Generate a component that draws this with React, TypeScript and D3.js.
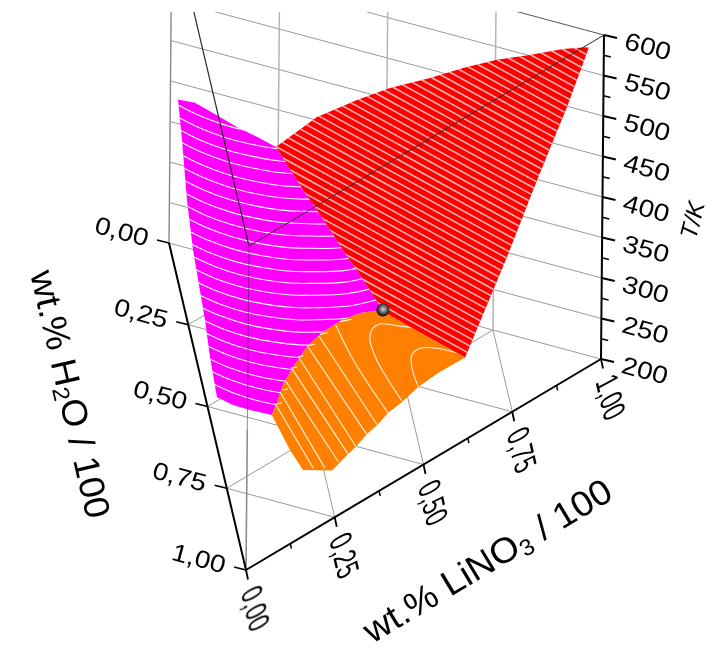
import React from "react";
import * as d3 from "d3";

// ---- ticks ----
const compTicks = [0, 0.25, 0.5, 0.75, 1];
const compGrid = [0.25, 0.5, 0.75];
const compMinor = [0.125, 0.375, 0.625, 0.875];
const tempTicks = [200, 250, 300, 350, 400, 450, 500, 550, 600];
const tempMinor = [225, 275, 325, 375, 425, 475, 525, 575];

// ---- surfaces: [H2O, LiNO3, T] ----
type P = [number, number, number];
const magentaSurface: P[] = [
  [0.096, 0, 416], [0.087, 0.041, 414], [0.099, 0.0805, 412], [0.113, 0.1335, 408], [0.117, 0.179, 404],
  [0.123, 0.222, 400], [0.128, 0.289, 355], [0.139, 0.334, 330], [0.1485, 0.3745, 305], [0.144, 0.4197, 275],
  [0.145, 0.457, 250], [0.137, 0.47, 240], [0.167, 0.412, 240], [0.208, 0.363, 241], [0.267, 0.308, 242],
  [0.332, 0.2595, 243], [0.4126, 0.2128, 244], [0.483, 0.177, 245], [0.546, 0.152, 246], [0.5956, 0.131, 247],
  [0.612, 0.0775, 252], [0.6187, 0.037, 255], [0.6177, 0, 259], [0.5255, 0, 271], [0.4587, 0, 290],
  [0.3007, 0, 313], [0.22, 0, 342], [0.1505, 0, 388],
];
const redSurface: P[] = [
  [0.123, 0.222, 400], [0.055, 0.329, 425], [0.0443, 0.423, 455], [0.0425, 0.499, 480], [0.028, 0.594, 500],
  [0.019, 0.672, 520], [0.016, 0.75, 540], [0.011, 0.827, 555], [0.002, 0.905, 570], [0.042, 0.958, 596],
  [0.103, 0.897, 538], [0.186, 0.814, 469], [0.269, 0.731, 396], [0.385, 0.615, 302],
  [0.2606, 0.5265, 272], [0.149, 0.477, 241], [0.145, 0.457, 250], [0.144, 0.4197, 275], [0.1485, 0.3745, 305],
  [0.139, 0.334, 330], [0.128, 0.289, 355],
];
const orangeSurface: P[] = [
  [0.137, 0.47, 240], [0.167, 0.412, 240], [0.208, 0.363, 241], [0.267, 0.308, 242], [0.332, 0.2595, 243],
  [0.4126, 0.2128, 244], [0.483, 0.177, 245], [0.546, 0.152, 246], [0.5956, 0.131, 247], [0.7156, 0.1516, 255],
  [0.777, 0.1707, 258], [0.759, 0.241, 260], [0.717, 0.283, 268], [0.692, 0.308, 272], [0.661, 0.339, 279.5],
  [0.633, 0.367, 283], [0.602, 0.398, 290], [0.5627, 0.4373, 293.5], [0.5176, 0.4824, 300], [0.4637, 0.5363, 303],
  [0.385, 0.615, 302], [0.2606, 0.5265, 272], [0.149, 0.477, 241],
];
const spherePoint: P = [0.137, 0.47, 240];

// ---- contour levels ----
const magentaLevelT = [412, 403, 394.5, 386, 376, 366, 356.4, 346.7, 338, 330.5, 323.4, 316, 310.6, 306.4, 302.2, 298, 294, 289.5, 283, 276.5, 270.4, 266.6, 262.8];
const magentaLevelH = [0.104, 0.121, 0.138, 0.154, 0.169, 0.183, 0.198, 0.213, 0.2306, 0.251, 0.272, 0.292, 0.3174, 0.346, 0.375, 0.404, 0.432, 0.46, 0.483, 0.506, 0.53, 0.559, 0.589];
const magentaLevelBend = [0.09, 0.09, 0.085, 0.08, 0.08, 0.075, 0.07, 0.065, 0.06, 0.055, 0.045, 0.035, 0.025, 0.015, 0.01, 0, 0, 0, 0, 0, 0, 0, 0];
const magentaArcDH = [-0.0076, 0, 0.0103, 0.0145, 0.0089, -0.0049, -0.0225, -0.0597, -0.1088, -0.183];
const magentaArcDL = [-0.0218, 0, 0.0398, 0.0969, 0.1558, 0.2208, 0.2702, 0.3579, 0.4361, 0.542];
// the ends of the magenta contours that poke over the orange sheet, at T = 240
const magentaStubs: P[][] = [
  [[0.213, 0.357, 240], [0.195, 0.3875, 240]],
  [[0.2717, 0.3004, 240], [0.2592, 0.3218, 240]],
  [[0.32, 0.2624, 240], [0.3094, 0.2805, 240]],
  [[0.3639, 0.2338, 240], [0.3562, 0.2467, 240]],
  [[0.4084, 0.2082, 240], [0.3986, 0.2245, 240]],
  [[0.486, 0.1766, 240], [0.4783, 0.1895, 240]],
  [[0.536, 0.1538, 240], [0.5283, 0.1667, 240]],
];

const redLevelT = [595, 589, 583, 577, 571, 565, 559, 553, 547, 541, 535, 529, 523, 517, 511, 505, 499, 493, 487, 481, 475, 469, 463, 457, 451, 445, 439, 433, 427, 421, 415, 409, 403, 397, 391, 385, 379, 373, 367, 361, 355, 349, 343, 337, 331, 325, 319, 313, 307];
const redLevelH = [0.043, 0.05, 0.057, 0.064, 0.071, 0.078, 0.085, 0.092, 0.099, 0.106, 0.113, 0.12, 0.127, 0.134, 0.141, 0.148, 0.155, 0.162, 0.169, 0.176, 0.183, 0.19, 0.197, 0.204, 0.211, 0.218, 0.225, 0.232, 0.239, 0.246, 0.253, 0.26, 0.267, 0.274, 0.281, 0.288, 0.295, 0.302, 0.309, 0.316, 0.323, 0.33, 0.337, 0.344, 0.351, 0.358, 0.365, 0.372, 0.379];
const redSpanDH = [0.0276, -0.368];
const redSpanDL = [0.0645, -0.86];

const orangeContours: P[][] = [
  [[0.5894, 0.1393, 260], [0.768, 0.1961, 260]],
  [[0.5498, 0.1578, 261], [0.76, 0.2244, 261]],
  [[0.5125, 0.176, 263], [0.7325, 0.2602, 263]],
  [[0.4792, 0.1975, 267], [0.7103, 0.2873, 267]],
  [[0.4486, 0.2182, 272], [0.6918, 0.3084, 272]],
  [[0.4217, 0.2422, 279], [0.6607, 0.3385, 279]],
  [[0.3894, 0.2748, 283], [0.6297, 0.3672, 283]],
  [[0.3552, 0.3193, 290], [0.459, 0.3432, 290], [0.6023, 0.3987, 290]],
  [[0.3078, 0.5169, 293], [0.3168, 0.469, 293], [0.3259, 0.4287, 293], [0.3528, 0.4047, 293], [0.3869, 0.3947, 293], [0.4463, 0.3996, 293], [0.5014, 0.4166, 293], [0.5573, 0.4377, 293]],
  [[0.371, 0.5981, 300], [0.3742, 0.5512, 300], [0.3888, 0.51, 300], [0.418, 0.4856, 300], [0.4562, 0.4788, 300], [0.5157, 0.4834, 300]],
];

// ---- projection of the ternary prism ----
const sxH = d3.scaleLinear([0, 1], [0, 77]);
const sxL = d3.scaleLinear([0, 1], [0, 432]);
const syH = d3.scaleLinear([0, 1], [0, 327]);
const syL = d3.scaleLinear([0, 1], [0, 116]);
const sxT = d3.scaleLinear([200, 600], [169, 172]);
const syT = d3.scaleLinear([200, 600], [243, -81]);
const proj = ([h, l, t]: P): [number, number] => [sxH(h) + sxL(l) + sxT(t), syH(h) + syL(l) + syT(t)];

const linePath = d3.line();
const curvePath = d3.line().curve(d3.curveCatmullRom.alpha(0.5));
const seg = (a: P, b: P) => linePath([proj(a), proj(b)]) as string;
const poly = (pts: P[]) => (linePath(pts.map(proj)) as string) + "Z";

const sans = "'Liberation Sans', Arial, sans-serif";

function Label({ x, y, a, sb, su, skew = 0, size, children, italic }: any) {
  const r = (a * Math.PI) / 180;
  const s = ((a + 90 + skew) * Math.PI) / 180;
  const m = [Math.cos(r) * sb, Math.sin(r) * sb, Math.cos(s) * su, Math.sin(s) * su, x, y].join(",");
  return (
    <text transform={`matrix(${m})`} fontSize={size} fontFamily={sans} fontStyle={italic ? "italic" : undefined} textAnchor="middle" dy="0.36em" fill="#000">
      {children}
    </text>
  );
}

export default function App() {
  const grey = "#9a9a9a";
  const hypAngle = 15;
  const magentaArcs = magentaLevelT.map((t, i) =>
    magentaArcDH.map((dh, j) => proj([magentaLevelH[i] + dh + magentaLevelBend[i] * magentaArcDL[j], magentaArcDL[j], t]))
  );
  const redLines = redLevelT.map((t, i): P[] => {
    const h = redLevelH[i];
    return redSpanDH.map((dh, j): P => [h + dh, 1 - h + redSpanDL[j], t]);
  });
  const [sphX, sphY] = proj(spherePoint);
  return (
    <svg width={711} height={656} style={{ position: "absolute", left: 0, top: 0, background: "#fff" }}>
      <defs>
        <clipPath id="top"><rect x={0} y={12} width={711} height={644} /></clipPath>
        <clipPath id="cm"><path d={poly(magentaSurface)} /></clipPath>
        <clipPath id="cr"><path d={poly(redSurface)} /></clipPath>
        <clipPath id="co"><path d={poly(orangeSurface)} /></clipPath>
        <radialGradient id="ball" cx="0.52" cy="0.45" r="0.55">
          <stop offset="0" stopColor="#d8d8d8" />
          <stop offset="0.45" stopColor="#707070" />
          <stop offset="1" stopColor="#000" />
        </radialGradient>
        <filter id="soft" x="0" y="0" width="711" height="656" filterUnits="userSpaceOnUse">
          <feGaussianBlur stdDeviation="0.45" />
        </filter>
      </defs>

      <g filter="url(#soft)">
        <g clipPath="url(#top)" fill="none">
          {/* floor grid */}
          {compGrid.map((v) => (
            <g key={v} stroke={grey} strokeWidth={1}>
              <path d={seg([v, 0, 200], [v, 1 - v, 200])} />
              <path d={seg([1 - v, v, 200], [0, v, 200])} />
              <path d={seg([v, 0, 200], [0, v, 200])} />
            </g>
          ))}
          <path d={seg([0, 0, 200], [0, 1, 200])} stroke={grey} strokeWidth={1} />
          {/* back wall */}
          {tempTicks.slice(1).map((t) => (
            <path key={t} d={seg([0, 0, t], [0, 1, t])} stroke={t === 600 ? "#555" : grey} strokeWidth={1} />
          ))}
          {compGrid.map((v) => (
            <path key={v} d={seg([0, v, 200], [0, v, 600])} stroke="#b5b5b5" strokeWidth={1.5} />
          ))}
          <path d={seg([0, 0, 200], [0, 0, 600])} stroke="#888" strokeWidth={1.4} />

          {/* surfaces */}
          <path d={poly(magentaSurface)} fill="#ff00ff" />
          <path d={poly(redSurface)} fill="#ff0000" />
          <path d={poly(orangeSurface)} fill="#ff8000" />

          <g clipPath="url(#cm)" stroke="#fff" strokeWidth={1.1}>
            {magentaArcs.map((a, i) => <path key={i} d={curvePath(a) as string} />)}
          </g>
          <g clipPath="url(#cr)" stroke="#ffb0b0" strokeWidth={1.6}>
            {redLines.map((a, i) => <path key={i} d={poly(a)} />)}
          </g>
          <g clipPath="url(#co)" stroke="#fff0dc" strokeWidth={1.1}>
            {orangeContours.map((a, i) => <path key={i} d={curvePath(a.map(proj)) as string} />)}
          </g>
          <g stroke="#fff" strokeWidth={1.1}>
            {magentaStubs.map((a, i) => <path key={i} d={seg(a[0], a[1])} />)}
          </g>

          {/* edges passing over the surfaces */}
          <path d={seg([1, 0, 373], [1, 0, 600])} stroke="#222" strokeWidth={1} opacity={0.5} />
          <path d={seg([1, 0, 200], [1, 0, 373])} stroke="#8c8c8c" strokeWidth={1.6} />
          <path d={seg([1, 0, 600], [0, 0, 600])} stroke="#2a2a2a" strokeWidth={1.2} />
          <path d={seg([1, 0, 600], [0, 1, 600])} stroke="#2a2a2a" strokeWidth={1} />
        </g>

        <circle cx={sphX} cy={sphY} r={6.5} fill="url(#ball)" />

        {/* axes */}
        <g stroke="#000" fill="none">
          <path d={seg([0, 0, 200], [1, 0, 200])} strokeWidth={2} />
          <path d={seg([1, 0, 200], [0, 1, 200])} strokeWidth={2} />
          <path d={seg([0, 1, 200], [0, 1, 600])} strokeWidth={2} />
          {compTicks.map((v) => {
            const [x, y] = proj([v, 0, 200]);
            return <line key={v} x1={x} y1={y} x2={x - 12} y2={y - 3} strokeWidth={1.8} />;
          })}
          {compTicks.map((v) => {
            const [x, y] = proj([1 - v, v, 200]);
            return <line key={v} x1={x} y1={y} x2={x + 2} y2={y + 9.5} strokeWidth={1.8} />;
          })}
          {compMinor.map((v) => {
            const [x, y] = proj([1 - v, v, 200]);
            return <line key={v} x1={x} y1={y} x2={x + 1} y2={y + 5} strokeWidth={1.5} />;
          })}
          {tempTicks.map((t) => {
            const [x, y] = proj([0, 1, t]);
            return <line key={t} x1={x} y1={y} x2={x + 13} y2={y + 3} strokeWidth={1.8} />;
          })}
          {tempMinor.map((t) => {
            const [x, y] = proj([0, 1, t]);
            return <line key={t} x1={x} y1={y} x2={x + 7} y2={y + 1.7} strokeWidth={1.5} />;
          })}
        </g>

        {/* tick labels */}
        {compTicks.map((v) => {
          const [x, y] = proj([v, 0, 200]);
          return <Label key={v} x={x - 47} y={y - 12} a={hypAngle} sb={1.28} su={1.12} size={22}>{d3.format(".2f")(v).replace(".", ",")}</Label>;
        })}
        {compTicks.map((v) => {
          const [x, y] = proj([1 - v, v, 200]);
          return <Label key={v} x={x + 10} y={y + 38} a={77} sb={0.98} su={1.55} skew={-15} size={22}>{d3.format(".2f")(v).replace(".", ",")}</Label>;
        })}
        {tempTicks.map((t) => {
          const [x, y] = proj([0, 1, t]);
          return <Label key={t} x={x + 44} y={y + 11} a={hypAngle} sb={1.28} su={1.12} size={22}>{t}</Label>;
        })}

        {/* titles */}
        <Label x={71} y={394} a={77} sb={1.2} su={1.15} size={31}>
          wt.% H<tspan dy="0.2em" fontSize="0.65em">2</tspan><tspan dy="-0.13em">O / 100</tspan>
        </Label>
        <Label x={487} y={560} a={-31} sb={1.2} su={1.15} size={31}>
          wt.% LiNO<tspan dy="0.2em" fontSize="0.65em">3</tspan><tspan dy="-0.13em" dx="0.3em">/ 100</tspan>
        </Label>
        <Label x={692} y={220} a={-76} sb={1} su={1} size={24} italic>T/K</Label>
      </g>
    </svg>
  );
}
